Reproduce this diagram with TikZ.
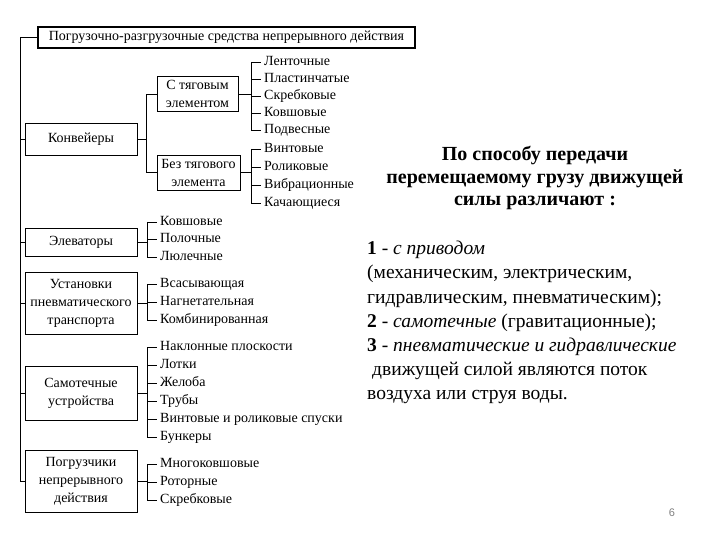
\documentclass[tikz,border=0pt]{standalone}
\usepackage{fontspec}
\setmainfont{Liberation Serif}
\newfontfamily\pagefont{Liberation Sans}
\usetikzlibrary{positioning}

\begin{document}
\begin{tikzpicture}[x=1pt,y=-1pt,font=\fontsize{14}{18}\selectfont,
  grp/.style={draw,line width=0.9pt,minimum width=112pt,align=center,inner sep=1pt},
  sub/.style={draw,line width=0.9pt,minimum height=35pt,align=center,inner sep=1pt},
  item/.style={anchor=west,inner ysep=1pt,inner xsep=3pt,text height=10pt,text depth=3.5pt},
  wire/.style={line width=0.9pt}]
  \useasboundingbox (0,0) rectangle (720,540);
  \node[draw,line width=1.8pt,minimum width=377pt,minimum height=21pt,inner sep=1pt] (head) at (226.5,37.5)
    {Погрузочно-разгрузочные средства непрерывного действия};
  % groups
  \node[grp,minimum height=32pt] (konv) at (81,139) {Конвейеры};
  \node[sub,minimum width=81pt] (tyag) at (197.5,94) {С тяговым\\элементом};
  \node[sub,minimum width=83pt] (bez) at (198.5,172.5) {Без тягового\\элемента};
  \node[grp,minimum height=28pt] (elev) at (81,242) {Элеваторы};
  \node[grp,minimum height=62pt] (pnev) at (81,303) {Установки\\пневматического\\транспорта};
  \node[grp,minimum height=54pt] (samo) at (81,393) {Самотечные\\устройства};
  \node[grp,minimum height=62pt] (pogr) at (81,481) {Погрузчики\\непрерывного\\действия};
  % trunk
  \coordinate (trunk) at (20,0);
  \draw[wire] (head.west) -- (head.west -| trunk) -- (pogr.west -| trunk) -- (pogr.west);
  \foreach \n in {konv,elev,pnev,samo}
    \draw[wire] (\n.west -| trunk) -- (\n.west);
  \draw[wire] (konv.east) -- ++(9,0) coordinate (kb);
  \draw[wire] (tyag.west) -| (kb) |- (bez.west);
  % lists
  \foreach \t [count=\i] in {Ленточные,Пластинчатые,Скребковые,Ковшовые,Подвесные}
    \node[item] (ta\i) at (261,{45+17*\i}) {\t};
  \foreach \t [count=\i] in {Винтовые,Роликовые,Вибрационные,Качающиеся}
    \node[item] (tb\i) at (261,{131+18*\i}) {\t};
  \foreach \t [count=\i] in {Ковшовые,Полочные,Люлечные}
    \node[item] (el\i) at (157,{204.5+17.5*\i}) {\t};
  \foreach \t [count=\i] in {Всасывающая,Нагнетательная,Комбинированная}
    \node[item] (pn\i) at (157,{266+18*\i}) {\t};
  \foreach \t [count=\i] in {Наклонные плоскости,Лотки,Желоба,Трубы,Винтовые и роликовые спуски,Бункеры}
    \node[item] (sa\i) at (157,{329+18*\i}) {\t};
  \foreach \t [count=\i] in {Многоковшовые,Роторные,Скребковые}
    \node[item] (po\i) at (157,{446+18*\i}) {\t};
  % brackets
  \coordinate (bx1) at (251,0);
  \coordinate (bx2) at (147,0);
  \draw[wire] (tyag.east) -- (tyag.east -| bx1);
  \draw[wire] (ta1.west -| bx1) -- (ta5.west -| bx1);
  \foreach \i in {1,...,5} \draw[wire] (ta\i.west -| bx1) -- (ta\i.west);
  \draw[wire] (bez.east) -- (bez.east -| bx1);
  \draw[wire] (tb1.west -| bx1) -- (tb4.west -| bx1);
  \foreach \i in {1,...,4} \draw[wire] (tb\i.west -| bx1) -- (tb\i.west);
  \draw[wire] (elev.east) -- (elev.east -| bx2);
  \draw[wire] (el1.west -| bx2) -- (el3.west -| bx2);
  \foreach \i in {1,...,3} \draw[wire] (el\i.west -| bx2) -- (el\i.west);
  \draw[wire] (pnev.east) -- (pnev.east -| bx2);
  \draw[wire] (pn1.west -| bx2) -- (pn3.west -| bx2);
  \foreach \i in {1,...,3} \draw[wire] (pn\i.west -| bx2) -- (pn\i.west);
  \draw[wire] (samo.east) -- (samo.east -| bx2);
  \draw[wire] (sa1.west -| bx2) -- (sa6.west -| bx2);
  \foreach \i in {1,...,6} \draw[wire] (sa\i.west -| bx2) -- (sa\i.west);
  \draw[wire] (pogr.east) -- (pogr.east -| bx2);
  \draw[wire] (po1.west -| bx2) -- (po3.west -| bx2);
  \foreach \i in {1,...,3} \draw[wire] (po\i.west -| bx2) -- (po\i.west);
  % right text
  \node[anchor=north,align=center,inner sep=0,font=\fontsize{20}{22.5}\selectfont\bfseries] (title) at (535,146)
    {По способу передачи\\перемещаемому грузу движущей\\силы различают :};
  \node[anchor=north west,align=left,inner sep=0,font=\fontsize{19.5}{24.2}\selectfont] (body) at (367,241)
    {\textbf{1} - \textit{с приводом}\\
     (механическим, электрическим,\\
     гидравлическим, пневматическим);\\
     \textbf{2} - \textit{самотечные} (гравитационные);\\
     \textbf{3} - \textit{пневматические и гидравлические}\\
     \hspace*{5pt}движущей силой являются поток\\
     воздуха или струя воды.};
  \node[font=\fontsize{11}{11}\selectfont\pagefont,text=gray] (pnum) at (672,513) {6};
\end{tikzpicture}
\end{document}
